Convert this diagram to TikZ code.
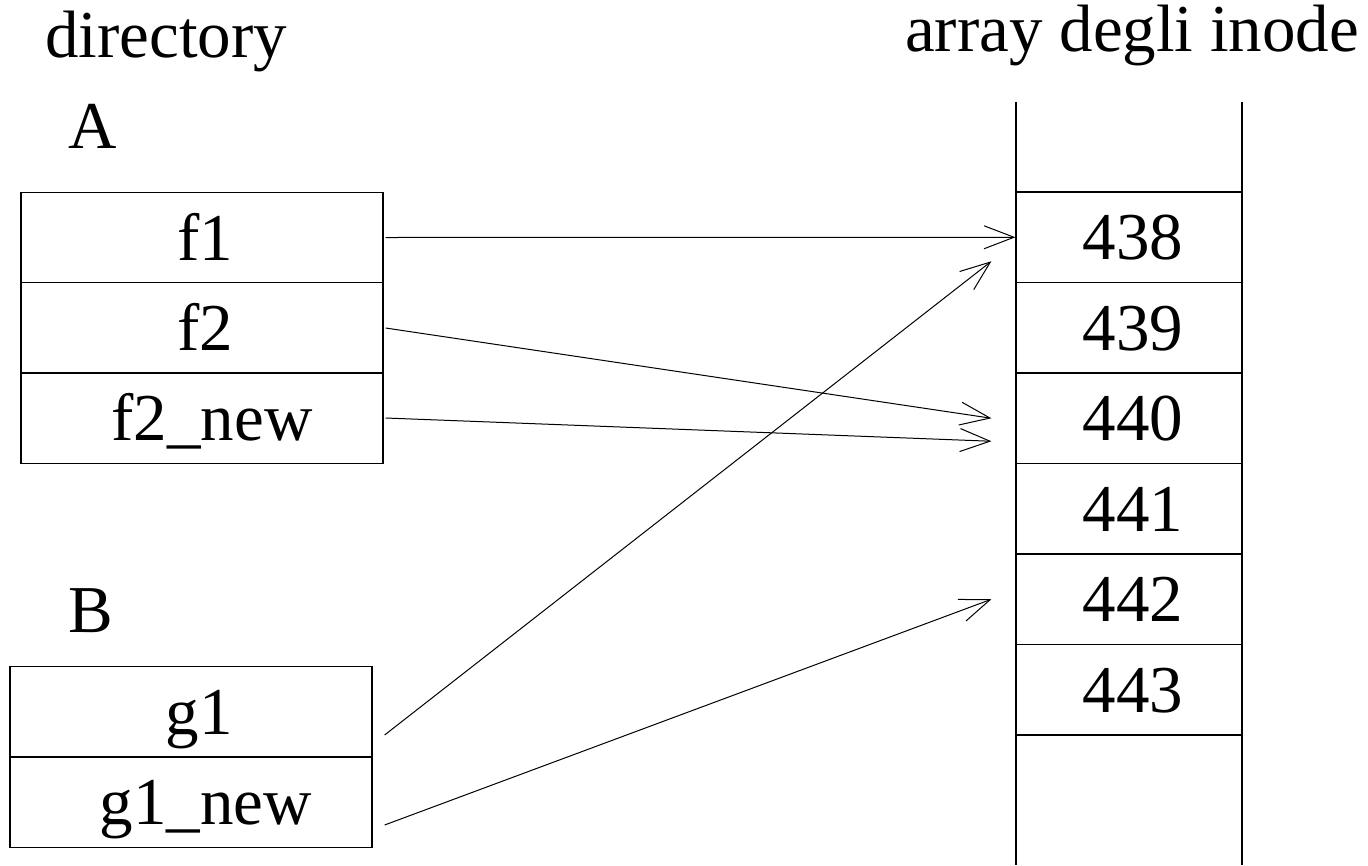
\documentclass[tikz,border=0pt]{standalone}
\usepackage{fontspec}
\setmainfont{Liberation Serif}
\usetikzlibrary{arrows.meta}
\tikzset{
  big/.style={font=\fontsize{67}{80}\selectfont, inner sep=0pt},
  rowbox/.style={big, draw, line width=1.2pt, minimum height=90.5pt, text height=45pt, text depth=0pt},
  dirrowA/.style={rowbox, minimum width=362pt},
  dirrowB/.style={rowbox, minimum width=362pt},
  inocell/.style={rowbox, minimum width=226pt},
  link/.style={line width=1pt, -{Straight Barb[length=30pt,width=23pt,line width=1pt]}},
  col/.style={line width=1.2pt}
}
\begin{document}
\begin{tikzpicture}[x=1pt,y=-1pt]
\useasboundingbox (0,0) rectangle (1368,865);
% titles
\node[big, anchor=base west] (tdir) at (45,57) {directory};
\node[big, anchor=base west] (tarr) at (905,51) {array degli inode};
\node[big, anchor=base west] (lA) at (68,148) {A};
\node[big, anchor=base west] (lB) at (68,632) {B};
% directory A
\node[dirrowA] (a1) at (202,237.5) {\hspace*{6pt}f1};
\node[dirrowA] (a2) at (202,328) {\hspace*{6pt}f2};
\node[dirrowA] (a3) at (202,418) {\hspace*{20pt}f2\_new};
% directory B
\node[dirrowB] (b1) at (191,712) {\hspace*{16pt}g1};
\node[dirrowB] (b2) at (191,802) {\hspace*{30pt}g1\_new};
% inode array
\coordinate (tl) at (1016,102);
\coordinate (tr) at (1242,102);
\coordinate (bl) at (1016,865);
\coordinate (br) at (1242,865);
\draw[col] (tl) -- (bl);
\draw[col] (tr) -- (br);
\node[inocell] (c1) at (1129,237.25) {\hspace*{8pt}438};
\node[inocell] (c2) at (1129,327.75) {\hspace*{8pt}439};
\node[inocell] (c3) at (1129,418.25) {\hspace*{8pt}440};
\node[inocell] (c4) at (1129,508.75) {\hspace*{8pt}441};
\node[inocell] (c5) at (1129,599.25) {\hspace*{8pt}442};
\node[inocell] (c6) at (1129,689.75) {\hspace*{8pt}443};
% links
\draw[link] ([xshift=2pt]a1.east) -- (c1.west);
\draw[link] ([xshift=2pt]a2.east) -- ([xshift=-24pt]c3.west);
\draw[link] ([xshift=2pt]a3.east) -- ([xshift=-24pt,yshift=-23pt]c3.west);
\draw[link] ([xshift=12pt,yshift=-23pt]b1.east) -- ([xshift=-24pt,yshift=-24pt]c1.west);
\draw[link] ([xshift=12pt,yshift=-23pt]b2.east) -- ([xshift=-24pt]c5.west);
\end{tikzpicture}
\end{document}
